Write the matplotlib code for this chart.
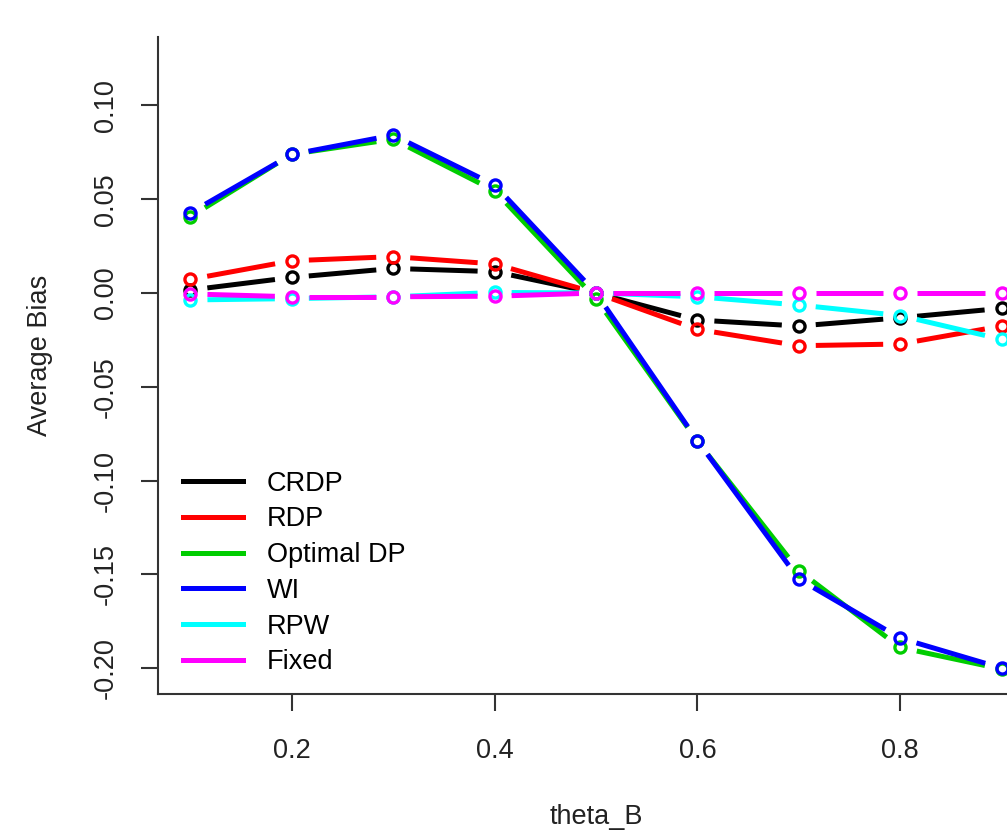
import numpy as np
import matplotlib
matplotlib.use('Agg')
import matplotlib.pyplot as plt
from matplotlib.collections import LineCollection
from matplotlib.lines import Line2D

plt.rcParams['font.family'] = ['Liberation Sans', 'DejaVu Sans']

theta_b = [0.1, 0.2, 0.3, 0.4, 0.5, 0.6, 0.7, 0.8, 0.9]
crdp = [0.0016, 0.0083, 0.0131, 0.0114, 0.0, -0.0144, -0.0176, -0.0132, -0.0082]
rdp = [0.0073, 0.0172, 0.0194, 0.0155, 0.0, -0.0194, -0.0281, -0.0272, -0.0176]
optimal_dp = [0.0407, 0.0740, 0.0820, 0.0545, -0.0030, -0.0790, -0.1480, -0.1890, -0.2005]
wi = [0.0428, 0.0739, 0.0842, 0.0576, 0.0, -0.0787, -0.1525, -0.1840, -0.2000]
rpw = [-0.0037, -0.0030, -0.0020, 0.0003, 0.0, -0.0020, -0.0064, -0.0120, -0.0247]
fixed = [-0.0005, -0.0020, -0.0020, -0.0017, 0.0, 0.0, 0.0, 0.0, 0.0]

labels = ['CRDP', 'RDP', 'Optimal DP', 'WI', 'RPW', 'Fixed']
series = [crdp, rdp, optimal_dp, wi, rpw, fixed]
colors = ['black', '#ff0000', '#00cd00', '#0000ff', '#00ffff', '#ff00ff']

FS = 19.5
LW = 3.6
GAP = 17  # pixels, like R type="b"


def gap_segments(ax, xs, ys, gap):
    # shorten each segment in display space so it stops short of the points
    pts = ax.transData.transform(np.column_stack([xs, ys]))
    inv = ax.transData.inverted()
    segs = []
    for p0, p1 in zip(pts[:-1], pts[1:]):
        d = p1 - p0
        n = np.hypot(d[0], d[1])
        if n <= 2 * gap:
            continue
        u = d / n
        segs.append(inv.transform(np.array([p0 + u * gap, p1 - u * gap])))
    return segs


fig = plt.figure(figsize=(10.07, 8.33), dpi=100)
ax = fig.add_axes([158 / 1007, 1 - 694 / 833, 876 / 1007, 657 / 833])
ax.set_xlim(0.068, 0.932)
ax.set_ylim(-0.2138, 0.1365)
ax.set_autoscale_on(False)

for vals, col in zip(series, colors):
    segs = gap_segments(ax, theta_b, vals, GAP)
    ax.add_collection(LineCollection(segs, colors=col, linewidths=LW, capstyle='butt'),
                      autolim=False)
    ax.plot(theta_b, vals, linestyle='none', marker='o', markersize=8,
            markerfacecolor='none', markeredgecolor=col, markeredgewidth=2.4)

for side in ['top', 'right']:
    ax.spines[side].set_visible(False)
for side in ['left', 'bottom']:
    ax.spines[side].set_color('#333333')
    ax.spines[side].set_linewidth(1.5)

ax.set_xticks([0.2, 0.4, 0.6, 0.8])
ax.set_xticklabels(['0.2', '0.4', '0.6', '0.8'])
ax.set_yticks([-0.20, -0.15, -0.10, -0.05, 0.00, 0.05, 0.10])
ax.set_yticklabels(['-0.20', '-0.15', '-0.10', '-0.05', '0.00', '0.05', '0.10'])
ax.tick_params(axis='both', direction='out', length=12, width=1.5, color='#333333',
               labelsize=FS, labelcolor='#222222')
ax.tick_params(axis='x', pad=20)
ax.tick_params(axis='y', pad=16)
for t in ax.get_yticklabels():
    t.set_rotation(90)
    t.set_va('center')

ax.set_xlabel('theta_B', fontsize=FS, color='#222222', va='center')
ax.xaxis.set_label_coords(0.5, -0.187)
ax.set_ylabel('Average Bias', fontsize=FS, color='#222222', va='center')
ax.yaxis.set_label_coords(-0.1347, 0.516)

handles = [Line2D([0], [0], color=c, lw=LW) for c in colors]
fig.legend(handles, labels, loc='center left', bbox_to_anchor=(183 / 1007, 1 - 573 / 833),
           frameon=False, fontsize=FS, handlelength=2.2, handletextpad=0.9,
           labelspacing=0.36, borderpad=0, borderaxespad=0)

plt.savefig('out.png', dpi=100)
plt.close()
